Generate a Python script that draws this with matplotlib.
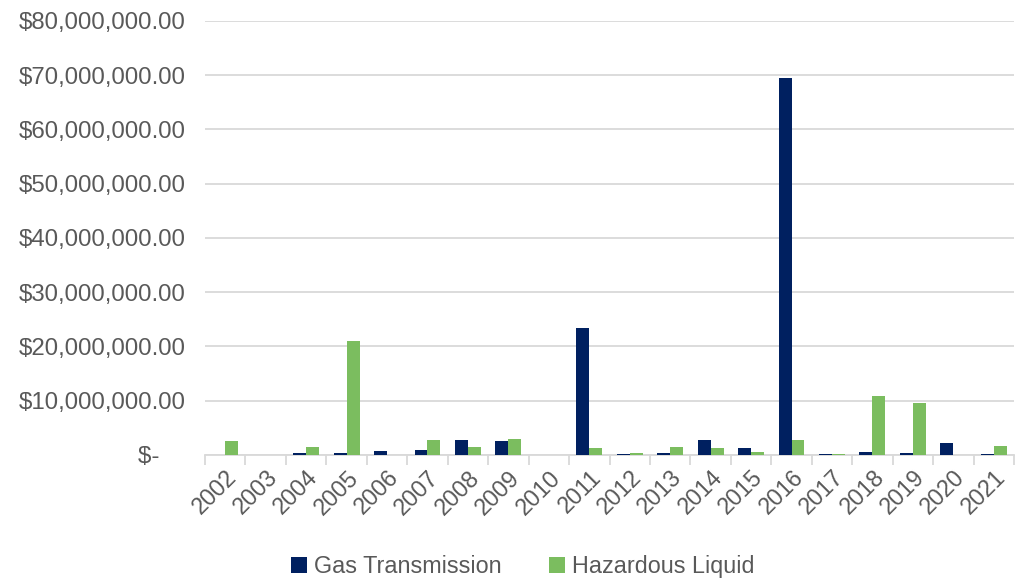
import matplotlib
matplotlib.use("Agg")
import matplotlib.pyplot as plt
import numpy as np
from matplotlib.ticker import FuncFormatter, FixedLocator

plt.rcParams["font.family"] = ["Liberation Sans", "DejaVu Sans"]

years = [str(y) for y in range(2002, 2022)]
gas_transmission = [0, 0, 0.4e6, 0.4e6, 0.75e6, 0.9e6, 2.8e6, 2.6e6, 0.05e6, 23.4e6,
                    0.2e6, 0.4e6, 2.8e6, 1.3e6, 69.5e6, 0.1e6, 0.55e6, 0.4e6, 2.1e6, 0.2e6]
hazardous_liquid = [2.5e6, 0, 1.4e6, 20.9e6, 0, 2.7e6, 1.5e6, 2.9e6, 0.05e6, 1.2e6,
                    0.4e6, 1.4e6, 1.35e6, 0.5e6, 2.7e6, 0.25e6, 10.9e6, 9.6e6, 0, 1.7e6]

navy = "#002060"
green = "#7BBD5F"
text_gray = "#595959"
grid_gray = "#D9D9D9"

fig = plt.figure(figsize=(10.15, 5.78), dpi=100)
ax = fig.add_axes([0.202, 0.213, 0.797, 0.751])

x = np.arange(len(years))
w = 0.32
ax.bar(x - w / 2, gas_transmission, width=w, color=navy, label="Gas Transmission", zorder=3)
ax.bar(x + w / 2, hazardous_liquid, width=w, color=green, label="Hazardous Liquid", zorder=3)

ax.set_xlim(-0.5, len(years) - 0.5)
ax.set_ylim(0, 80e6)
ax.yaxis.set_major_locator(FixedLocator(np.arange(0, 80e6 + 1, 10e6)))


def money(v, pos):
    if v == 0:
        return "$-    "
    return "${:,.2f}".format(v)


ax.yaxis.set_major_formatter(FuncFormatter(money))
ax.grid(axis="y", color=grid_gray, linewidth=1.3, zorder=0)
ax.tick_params(axis="y", length=0, labelsize=17.3, labelcolor=text_gray, pad=14)

ax.set_xticks(x)
ax.set_xticklabels(years, rotation=45, ha="right", rotation_mode="anchor",
                   fontsize=16.8, color=text_gray)
ax.tick_params(axis="x", length=0, pad=8)
ax.set_xticks(np.arange(-0.5, len(years) + 0.5, 1), minor=True)
ax.tick_params(axis="x", which="minor", length=7, width=1.3, color=grid_gray)

for side in ["top", "right", "left"]:
    ax.spines[side].set_visible(False)
ax.spines["bottom"].set_color(grid_gray)
ax.spines["bottom"].set_linewidth(1.3)

leg = fig.legend(loc="lower center", bbox_to_anchor=(0.515, -0.037), ncol=2, frameon=False,
                 fontsize=16.8, handlelength=0.7, handleheight=0.7, handletextpad=0.3,
                 columnspacing=2.0)
for t in leg.get_texts():
    t.set_color(text_gray)

fig.savefig("out.png", dpi=100)
